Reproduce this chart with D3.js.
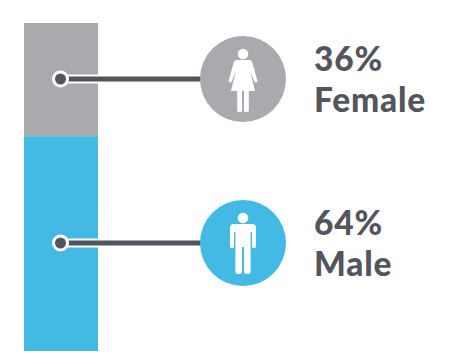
<!DOCTYPE html>
<html>
<head>
<meta charset="utf-8">
<script src="https://cdn.jsdelivr.net/npm/d3@7"></script>
<style>
  html, body { margin: 0; padding: 0; background: #fff; }
  svg { display: block; }
  text { font-family: Lato, "Open Sans", sans-serif; font-weight: 900; fill: #54555c; font-size: 33.5px; letter-spacing: 0.8px; }
</style>
</head>
<body>
<div id="chart"></div>
<script>
const categories = ["Female", "Male"];
const percentLabels = ["36%", "64%"];
// the drawn bar is not quite to the printed percentages, these are its shares as pictured
const barShares = [34.5, 65.5];
const colors = ["#a9aaad", "#43bae4"];

const width = 466, height = 364;
const darkLine = "#54555c";

const svg = d3.select("#chart").append("svg")
    .attr("width", width)
    .attr("height", height);

const y = d3.scaleLinear().domain([0, d3.sum(barShares)]).range([23, 351]);
const starts = d3.cumsum([0].concat(barShares));
const segments = categories.map((c, i) => ({
    name: c,
    label: percentLabels[i],
    color: colors[i],
    start: starts[i],
    end: starts[i + 1]
}));

const barX = 24, barW = 74, dotX = 60.5, circleX = 243, circleR = 43;
// where the leader sits inside each segment
const leaderY = [79, 243];

svg.selectAll(".seg")
    .data(segments)
    .enter().append("rect")
    .attr("class", "seg")
    .attr("x", barX)
    .attr("width", barW)
    .attr("y", d => y(d.start))
    .attr("height", d => y(d.end) - y(d.start))
    .attr("fill", d => d.color);

const rows = svg.selectAll(".row")
    .data(segments)
    .enter().append("g")
    .attr("class", "row")
    .attr("transform", (d, i) => `translate(0,${leaderY[i]})`);

// white halo of the leader, only inside the bar
rows.append("rect")
    .attr("x", dotX)
    .attr("y", -4.5)
    .attr("width", barX + barW - dotX)
    .attr("height", 9)
    .attr("fill", "#fff");

rows.append("rect")
    .attr("x", dotX)
    .attr("y", -2.5)
    .attr("width", circleX - dotX)
    .attr("height", 5)
    .attr("fill", darkLine);

rows.append("circle")
    .attr("cx", dotX)
    .attr("r", 7)
    .attr("fill", darkLine)
    .attr("stroke", "#fff")
    .attr("stroke-width", 3);

rows.append("circle")
    .attr("cx", circleX)
    .attr("r", circleR)
    .attr("fill", d => d.color);

// person icons
const icons = {
    Female: "M-6.5,-19 L6.5,-19 Q8.5,-19 9.3,-16.5 L14.3,1.5 Q14.6,3.5 13,3.6 Q11.8,3.7 11.2,2.3 L7.2,-8 L12,12 L5.8,12 L5.8,31.5 Q5.8,33 4,33 L2.6,33 Q1,33 1,31.5 L1,12 L-1,12 L-1,31.5 Q-1,33 -2.6,33 L-4,33 Q-5.8,33 -5.8,31.5 L-5.8,12 L-12,12 L-7.2,-8 L-11.2,2.3 Q-11.8,3.7 -13,3.6 Q-14.6,3.5 -14.3,1.5 L-9.3,-16.5 Q-8.5,-19 -6.5,-19 Z",
    Male: "M-9,-19 L9,-19 Q13,-19 13,-15 L13,3.5 Q13,5.2 11,5.2 Q9,5.2 9,3.5 L9,-11 L7.6,-11 L7.6,28.5 Q7.6,31 5,31 L3.5,31 Q1,31 1,28.5 L1,4 L-1,4 L-1,28.5 Q-1,31 -3.5,31 L-5,31 Q-7.6,31 -7.6,28.5 L-7.6,-11 L-9,-11 L-9,3.5 Q-9,5.2 -11,5.2 Q-13,5.2 -13,3.5 L-13,-15 Q-13,-19 -9,-19 Z"
};

rows.append("path")
    .attr("transform", `translate(${circleX},0)`)
    .attr("d", d => icons[d.name])
    .attr("fill", "#fff");

rows.append("circle")
    .attr("cx", circleX)
    .attr("cy", -25)
    .attr("r", 5.3)
    .attr("fill", "#fff");

rows.append("text")
    .attr("x", 314)
    .attr("y", -8.5)
    .text(d => d.label);

rows.append("text")
    .attr("x", 314)
    .attr("y", 32.5)
    .text(d => d.name);
</script>
</body>
</html>
